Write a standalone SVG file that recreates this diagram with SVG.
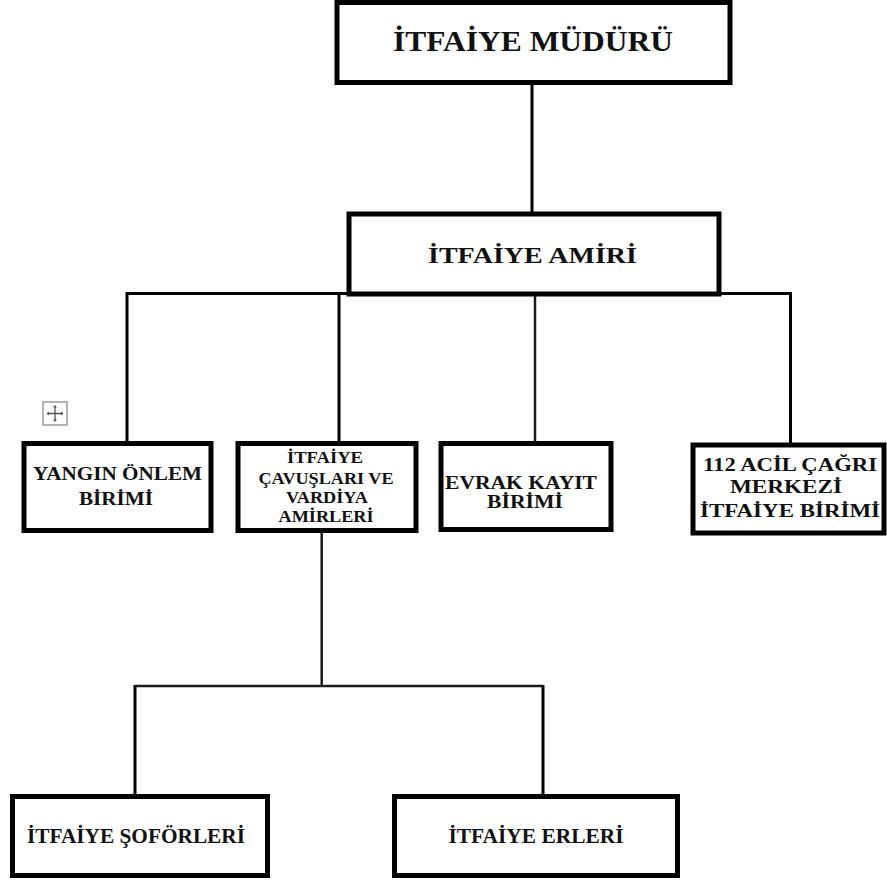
<svg xmlns="http://www.w3.org/2000/svg" width="887" height="883" viewBox="0 0 887 883">
  <style>
    .box { fill: #ffffff; stroke: #000000; stroke-width: 5; }
    .conn { fill: none; stroke: #000000; stroke-width: 3; }
    .thin { fill: none; stroke: #1a1a1a; stroke-width: 2.5; }
    .t { font-family: "Liberation Serif", "Times New Roman", serif; font-weight: bold; fill: #111111; text-anchor: middle; }
  </style>
  <rect width="887" height="883" fill="#ffffff"/>

  <g id="connectors">
    <line class="conn" x1="532" y1="83" x2="532" y2="214"/>
    <line class="conn" x1="126" y1="293.5" x2="790" y2="293.5"/>
    <line class="conn" x1="127" y1="292" x2="127" y2="443"/>
    <line class="conn" x1="339" y1="293" x2="339" y2="443"/>
    <line class="thin" x1="535" y1="293" x2="535" y2="443"/>
    <line class="conn" x1="790.5" y1="292" x2="790.5" y2="445"/>
    <line class="thin" x1="321.7" y1="531" x2="321.7" y2="686"/>
    <line class="thin" x1="135" y1="686" x2="543" y2="686"/>
    <line class="conn" x1="135" y1="685" x2="135" y2="796"/>
    <line class="conn" x1="543" y1="685" x2="543" y2="796"/>
  </g>

  <g id="mudur">
    <rect class="box" x="337" y="2.5" width="393" height="80"/>
    <text class="t" x="533" y="50.5" font-size="29" textLength="280" lengthAdjust="spacingAndGlyphs">İTFAİYE MÜDÜRÜ</text>
  </g>

  <g id="amir">
    <rect class="box" x="349" y="214" width="370" height="80"/>
    <text class="t" x="532.5" y="262.7" font-size="24" textLength="209" lengthAdjust="spacingAndGlyphs">İTFAİYE AMİRİ</text>
  </g>

  <g id="yangin">
    <rect class="box" x="24" y="443.5" width="187" height="87"/>
    <text class="t" x="117.5" y="480" font-size="19" textLength="169" lengthAdjust="spacingAndGlyphs">YANGIN ÖNLEM</text>
    <text class="t" x="116" y="505" font-size="19" textLength="74" lengthAdjust="spacingAndGlyphs">BİRİMİ</text>
  </g>

  <g id="cavus">
    <rect class="box" x="238" y="443.5" width="178" height="87"/>
    <text class="t" x="325" y="463" font-size="17" textLength="76" lengthAdjust="spacingAndGlyphs">İTFAİYE</text>
    <text class="t" x="326" y="484" font-size="17" textLength="135" lengthAdjust="spacingAndGlyphs">ÇAVUŞLARI VE</text>
    <text class="t" x="327" y="503" font-size="17" textLength="82" lengthAdjust="spacingAndGlyphs">VARDİYA</text>
    <text class="t" x="326" y="522" font-size="17" textLength="95" lengthAdjust="spacingAndGlyphs">AMİRLERİ</text>
  </g>

  <g id="evrak">
    <rect class="box" x="441" y="443.5" width="170" height="86"/>
    <text class="t" x="521" y="489" font-size="19" textLength="152" lengthAdjust="spacingAndGlyphs">EVRAK KAYIT</text>
    <text class="t" x="525" y="508" font-size="19" textLength="76" lengthAdjust="spacingAndGlyphs">BİRİMİ</text>
  </g>

  <g id="acil112">
    <rect class="box" x="693" y="445" width="191" height="88"/>
    <text class="t" x="790" y="471" font-size="19" textLength="174" lengthAdjust="spacingAndGlyphs">112 ACİL ÇAĞRI</text>
    <text class="t" x="786" y="493" font-size="19" textLength="112" lengthAdjust="spacingAndGlyphs">MERKEZİ</text>
    <text class="t" x="790" y="517" font-size="19" textLength="180" lengthAdjust="spacingAndGlyphs">İTFAİYE BİRİMİ</text>
  </g>

  <g id="soforler">
    <rect class="box" x="12.5" y="796.5" width="255" height="79"/>
    <text class="t" x="136" y="843" font-size="21" textLength="218" lengthAdjust="spacingAndGlyphs">İTFAİYE ŞOFÖRLERİ</text>
  </g>

  <g id="erler">
    <rect class="box" x="394.5" y="796.5" width="283" height="79"/>
    <text class="t" x="536" y="843" font-size="21" textLength="175" lengthAdjust="spacingAndGlyphs">İTFAİYE ERLERİ</text>
  </g>

  <g id="move-handle">
    <rect x="43" y="402" width="24" height="23" fill="#ffffff" stroke="#9a9a9a" stroke-width="1.5"/>
    <path d="M55 406 V421 M47.5 413.5 H62.5" stroke="#555555" stroke-width="1.3" fill="none"/>
    <path d="M55 405 l-2 2.5 h4 z M55 422 l-2 -2.5 h4 z M46.5 413.5 l2.5 -2 v4 z M63.5 413.5 l-2.5 -2 v4 z" fill="#555555"/>
  </g>
</svg>
